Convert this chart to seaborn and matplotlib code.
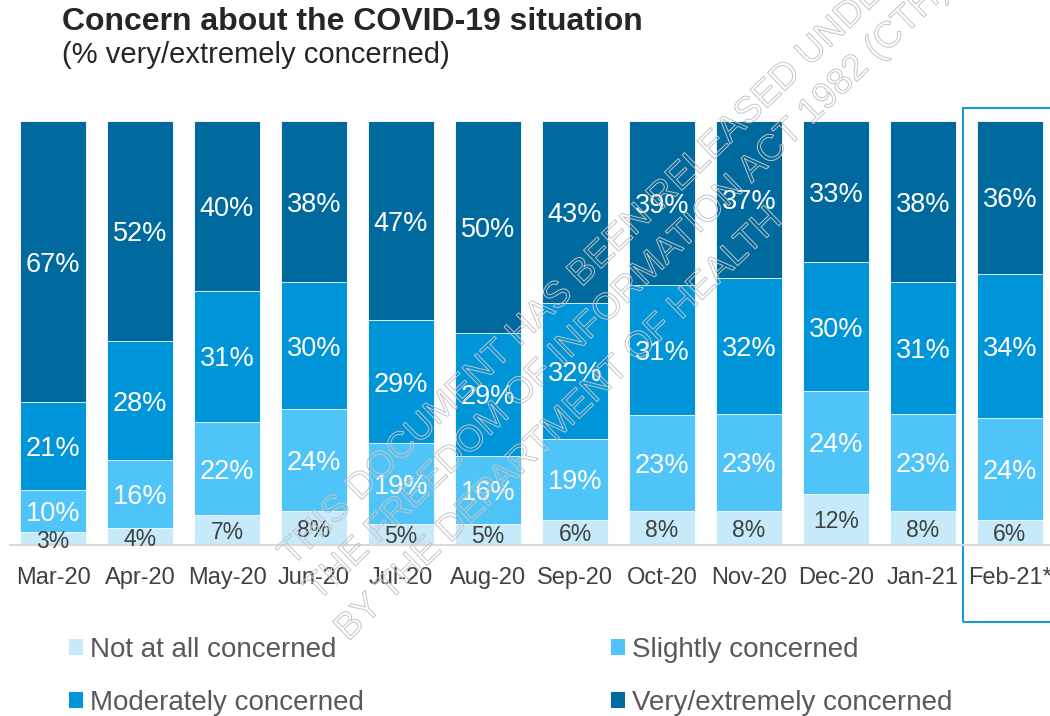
import numpy as np
import pandas as pd
import matplotlib
matplotlib.use('Agg')
import matplotlib.pyplot as plt
import matplotlib.patheffects as pe
from matplotlib.patches import Patch, Rectangle
import seaborn as sns

# Survey waves
months = ['Mar-20', 'Apr-20', 'May-20', 'Jun-20', 'Jul-20', 'Aug-20',
          'Sep-20', 'Oct-20', 'Nov-20', 'Dec-20', 'Jan-21', 'Feb-21*']

# % of respondents in each concern level
not_at_all = [3, 4, 7, 8, 5, 5, 6, 8, 8, 12, 8, 6]
slightly = [10, 16, 22, 24, 19, 16, 19, 23, 23, 24, 23, 24]
moderately = [21, 28, 31, 30, 29, 29, 32, 31, 32, 30, 31, 34]
very = [67, 52, 40, 38, 47, 50, 43, 39, 37, 33, 38, 36]

series = ['Not at all concerned', 'Slightly concerned',
          'Moderately concerned', 'Very/extremely concerned']
colors = ['#C6EAFA', '#4FC4F8', '#0094D8', '#006A9E']

df = pd.DataFrame({'month': months, series[0]: not_at_all, series[1]: slightly,
                   series[2]: moderately, series[3]: very})

vals = df[series].to_numpy(dtype=float)
# rounded values don't always add to 100, scale each bar to 100
shares = vals / vals.sum(axis=1, keepdims=True) * 100
cum = shares.cumsum(axis=1)

sns.set_style('white')
plt.rcParams['font.family'] = ['Liberation Sans', 'DejaVu Sans']

W, H = 1050, 716
fig = plt.figure(figsize=(W / 100, H / 100), dpi=100)
ax = fig.add_axes([9.5 / W, 171 / H, 1044 / W, 424 / H])

# stacked bars: draw the running totals from the top layer down
for i in reversed(range(len(series))):
    sns.barplot(x=df['month'], y=cum[:, i], color=colors[i], width=0.77,
                saturation=1, edgecolor='white', linewidth=0.6, ax=ax)

for j in range(len(months)):
    for i in range(len(series)):
        y = cum[j, i] - shares[j, i] / 2
        if i == 0:
            ax.text(j, y, f'{int(vals[j, i])}%', ha='center', va='center_baseline',
                    fontsize=16.5, color='#404040')
        else:
            ax.text(j, y, f'{int(vals[j, i])}%', ha='center', va='center_baseline',
                    fontsize=19.5, color='white')

# box around latest wave
ax.add_patch(Rectangle((10.46, -18.2), 1.3, 121.3, fill=False,
                       edgecolor='#1A9AD6', linewidth=1.5, clip_on=False))

ax.set_xlim(-0.5, 11.5)
ax.set_ylim(0, 100)
ax.set_xlabel('')
ax.set_ylabel('')
ax.set_yticks([])
ax.tick_params(axis='x', length=0, pad=16, labelsize=17, labelcolor='#404040')
for s in ['top', 'right', 'left']:
    ax.spines[s].set_visible(False)
ax.spines['bottom'].set_color('#D9D9D9')
ax.spines['bottom'].set_linewidth(1.5)

fig.text(62 / W, 1 - 30 / H, 'Concern about the COVID-19 situation',
         fontsize=23, fontweight='bold', color='#262626', va='baseline')
fig.text(62 / W, 1 - 63 / H, '(% very/extremely concerned)',
         fontsize=21, color='#262626', va='baseline')

handles = [Patch(facecolor=c, edgecolor='none') for c in colors]
order = [0, 2, 1, 3]
fig.legend([handles[k] for k in order], [series[k] for k in order],
           ncol=2, loc='upper left', bbox_to_anchor=(69 / W, 1 - 637 / H),
           frameon=False, fontsize=20, labelcolor='#595959', borderpad=0,
           borderaxespad=0, handlelength=0.5, handleheight=0.5,
           handletextpad=0.25, columnspacing=8.9, labelspacing=0.97)

# release watermark
watermark = [('THIS DOCUMENT HAS BEEN RELEASED UNDER', 292, 567),
             ('THE FREEDOM OF INFORMATION ACT 1982 (CTH)', 318, 602),
             ('BY THE DEPARTMENT OF HEALTH', 348, 642)]
for txt, px, py in watermark:
    fig.text(px / W, 1 - py / H, txt, rotation=44, rotation_mode='anchor',
             ha='left', va='baseline', fontsize=26.5, color='none', zorder=10,
             path_effects=[pe.Stroke(linewidth=0.7, foreground='#C4C4C4')])

fig.savefig('out.png', dpi=100)
